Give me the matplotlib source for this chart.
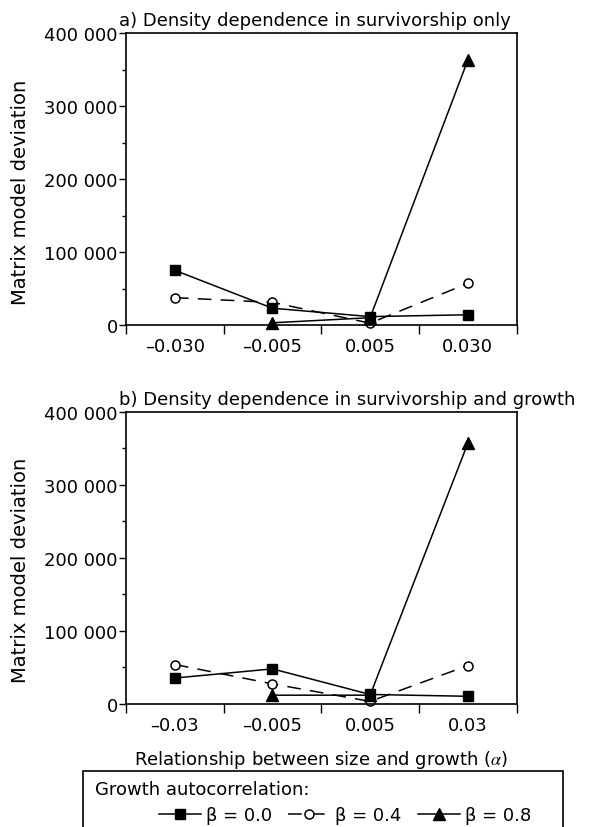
import numpy as np
import matplotlib
matplotlib.use('Agg')
import matplotlib.pyplot as plt
from matplotlib.patches import Rectangle

plt.rcParams['font.family'] = ['DejaVu Sans']
plt.rcParams['mathtext.fontset'] = 'stix'

# ---------------- data ----------------
labels_a = ['\u20130.030', '\u20130.005', '0.005', '0.030']
labels_b = ['\u20130.03', '\u20130.005', '0.005', '0.03']

# panel a) density dependence in survivorship only
a_beta00 = [75000, 23000, 11500, 14000]
a_beta04 = [37500, 31000, 2500, 57000]
a_beta08 = [np.nan, 3000, 10000, 363000]

# panel b) density dependence in survivorship and growth
b_beta00 = [35500, 48000, 13000, 10500]
b_beta04 = [54000, 27500, 3500, 52500]
b_beta08 = [np.nan, 12000, 12000, 356500]

y_ticks = [0, 100000, 200000, 300000, 400000]
y_ticklabels = ['0', '100 000', '200 000', '300 000', '400 000']
y_minor = [50000, 150000, 250000, 350000]

legend_labels = ['\u03b2 = 0.0', '\u03b2 = 0.4', '\u03b2 = 0.8']

FS = 13
LW = 1.1


def draw_panel(ax, title, labels, s00, s04, s08):
    x = np.arange(len(labels)) + 0.5
    l04, = ax.plot(x, s04, color='black', lw=LW, ls=(0, (9, 6)), marker='o',
                   ms=6.5, mfc='white', mec='black', mew=1.1, zorder=2, clip_on=False)
    l08, = ax.plot(x, s08, color='black', lw=LW, marker='^', ms=8, zorder=3, clip_on=False)
    l00, = ax.plot(x, s00, color='black', lw=LW, marker='s', ms=7.5, zorder=4, clip_on=False)

    ax.set_xlim(0, 4)
    ax.set_ylim(0, 400000)
    ax.set_xticks(x)
    ax.set_xticklabels(labels)
    ax.set_xticks(np.arange(5), minor=True)
    ax.tick_params(axis='x', which='major', length=0, pad=9, labelsize=FS)
    ax.tick_params(axis='x', which='minor', length=6.5, width=1, direction='out')

    ax.set_yticks(y_ticks)
    ax.set_yticklabels(y_ticklabels)
    ax.set_yticks(y_minor, minor=True)
    ax.tick_params(axis='y', which='major', length=5, width=1, pad=1, labelsize=FS)
    ax.tick_params(axis='y', which='minor', length=3, width=1)

    for sp in ax.spines.values():
        sp.set_linewidth(1.2)

    ax.set_ylabel('Matrix model deviation', fontsize=14)
    ax.yaxis.set_label_coords(-0.245, 0.46)
    ax.text(-0.018, 1.045, title, transform=ax.transAxes, ha='left',
            va='center', fontsize=FS)
    return l00, l04, l08


fig = plt.figure(figsize=(5.9, 8.28), dpi=100)
ax_a = fig.add_axes([0.2136, 0.6063, 0.6619, 0.3521])
ax_b = fig.add_axes([0.2136, 0.1486, 0.6619, 0.3530])

draw_panel(ax_a, 'a) Density dependence in survivorship only', labels_a,
           a_beta00, a_beta04, a_beta08)
handles = draw_panel(ax_b, 'b) Density dependence in survivorship and growth', labels_b,
                     b_beta00, b_beta04, b_beta08)
ax_b.set_xlabel(r'Relationship between size and growth ($\alpha$)', fontsize=FS, labelpad=10)

# legend box
fig.patches.append(Rectangle((0.140, -0.01), 0.814, 0.0776, transform=fig.transFigure,
                             fill=False, edgecolor='black', lw=1.2))
fig.text(0.161, 0.0459, 'Growth autocorrelation:', ha='left', va='center', fontsize=FS)
fig.legend(handles, legend_labels, loc='center', bbox_to_anchor=(0.585, 0.0145),
           ncol=3, frameon=False, fontsize=FS, handlelength=2.3,
           handletextpad=0.3, columnspacing=0.9, borderpad=0, borderaxespad=0)

fig.savefig('out.png', dpi=100)
